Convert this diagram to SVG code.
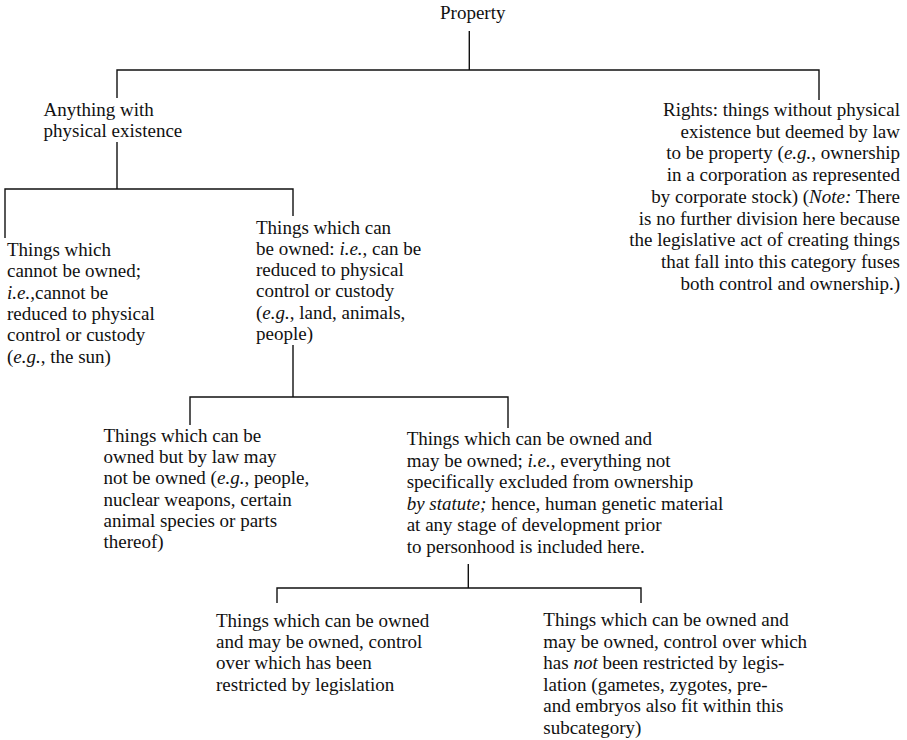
<svg xmlns="http://www.w3.org/2000/svg" width="907" height="740" viewBox="0 0 907 740">
<style>
text{font-family:'Liberation Serif','Times New Roman',serif;font-size:19px;fill:#111}
.r{text-anchor:end}
.i{font-style:italic}
#connectors path{fill:none;stroke:#111;stroke-width:1.4}
</style>
<rect width="907" height="740" fill="#fff"/>
<g id="connectors">
<path d="M469.3,31 V70 M117,98 V70 H819 V100"/>
<path d="M117,142 V189 M5,238 V189 H293 V216"/>
<path d="M293,345 V397 M190,425 V397 H508 V428"/>
<path d="M468.3,564 V588 M277,603 V588 H641 V603"/>
</g>
<g id="property"><text x="440" y="18.5">Property</text></g>
<g id="physical">
<text x="43.5" y="115.5">Anything with</text>
<text x="43.5" y="137">physical existence</text>
</g>
<g id="rights">
<text class="r" x="900" y="116">Rights: things without physical</text>
<text class="r" x="900" y="137.7">existence but deemed by law</text>
<text class="r" x="900" y="159.4">to be property (<tspan class="i">e.g.</tspan>, ownership</text>
<text class="r" x="900" y="181.1">in a corporation as represented</text>
<text class="r" x="900" y="202.8">by corporate stock) (<tspan class="i">Note:</tspan> There</text>
<text class="r" x="900" y="224.5">is no further division here because</text>
<text class="r" x="900" y="246.2">the legislative act of creating things</text>
<text class="r" x="900" y="267.9">that fall into this category fuses</text>
<text class="r" x="900" y="289.6">both control and ownership.)</text>
</g>
<g id="cannot-own">
<text x="7" y="256">Things which</text>
<text x="7" y="277.3">cannot be owned;</text>
<text x="7" y="298.6"><tspan class="i">i.e.</tspan>,cannot be</text>
<text x="7" y="319.9">reduced to physical</text>
<text x="7" y="341.2">control or custody</text>
<text x="7" y="362.5">(<tspan class="i">e.g.</tspan>, the sun)</text>
</g>
<g id="can-own">
<text x="256" y="233.5">Things which can</text>
<text x="256" y="254.8">be owned: <tspan class="i">i.e.</tspan>, can be</text>
<text x="256" y="276.1">reduced to physical</text>
<text x="256" y="297.4">control or custody</text>
<text x="256" y="318.7">(<tspan class="i">e.g.</tspan>, land, animals,</text>
<text x="256" y="340">people)</text>
</g>
<g id="may-not">
<text x="103.5" y="441.7">Things which can be</text>
<text x="103.5" y="463">owned but by law may</text>
<text x="103.5" y="484.3">not be owned (<tspan class="i">e.g.</tspan>, people,</text>
<text x="103.5" y="505.6">nuclear weapons, certain</text>
<text x="103.5" y="526.9">animal species or parts</text>
<text x="103.5" y="548.2">thereof)</text>
</g>
<g id="may-own">
<text x="406.7" y="445">Things which can be owned and</text>
<text x="406.7" y="466.5">may be owned; <tspan class="i">i.e.</tspan>, everything not</text>
<text x="406.7" y="488">specifically excluded from ownership</text>
<text x="406.7" y="509.5"><tspan class="i">by statute;</tspan> hence, human genetic material</text>
<text x="406.7" y="531">at any stage of development prior</text>
<text x="406.7" y="552.5">to personhood is included here.</text>
</g>
<g id="restricted">
<text x="216" y="626.7">Things which can be owned</text>
<text x="216" y="648">and may be owned, control</text>
<text x="216" y="669.3">over which has been</text>
<text x="216" y="690.6">restricted by legislation</text>
</g>
<g id="not-restricted">
<text x="543.3" y="626">Things which can be owned and</text>
<text x="543.3" y="647.5">may be owned, control over which</text>
<text x="543.3" y="669">has <tspan class="i">not</tspan> been restricted by legis-</text>
<text x="543.3" y="690.5">lation (gametes, zygotes, pre-</text>
<text x="543.3" y="712">and embryos also fit within this</text>
<text x="543.3" y="733.5">subcategory)</text>
</g>
</svg>
